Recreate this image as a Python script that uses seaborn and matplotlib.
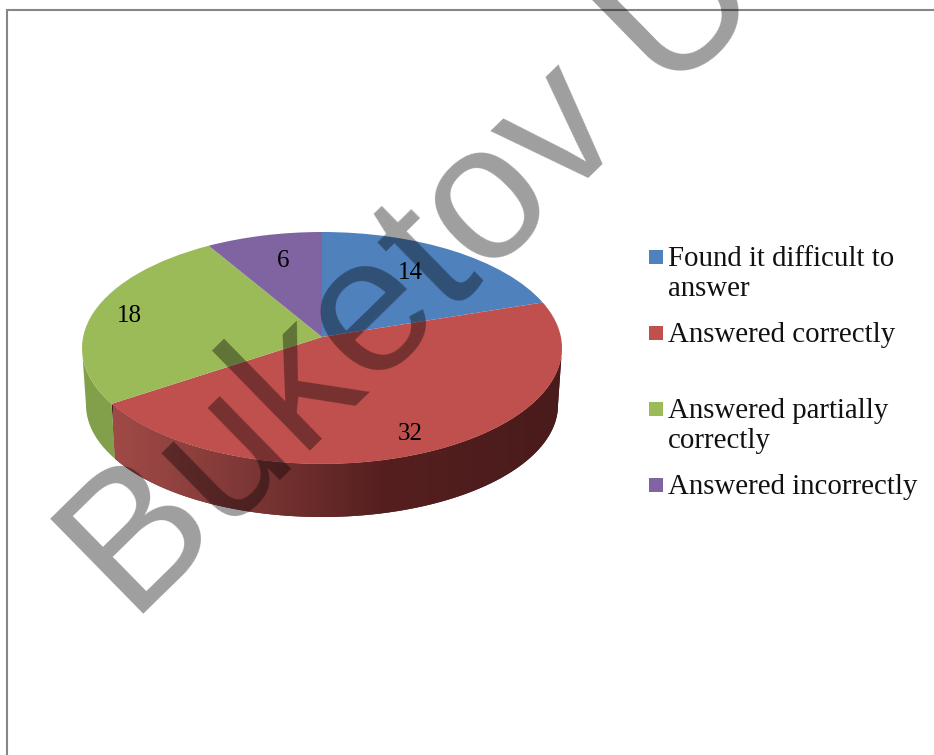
import matplotlib
matplotlib.use("Agg")
import matplotlib.pyplot as plt
import matplotlib.transforms as mtransforms
from matplotlib.lines import Line2D
from matplotlib.patches import Rectangle
import numpy as np
import seaborn as sns


CATEGORIES = [
    "Found it difficult to\nanswer",
    "Answered correctly",
    "Answered partially\ncorrectly",
    "Answered incorrectly",
]
VALUES = [14, 32, 18, 6]
COLORS = ["#4f81bd", "#c0504d", "#9bbb59", "#8064a2"]
RED_WALL = ["#a04a47", "#8a3e3c", "#6f2f2e", "#561f1f", "#4f1d1d", "#4a1b1b"]
GREEN_WALL = "#829f49"
WATERMARK = "Buketov U"

WIDTH, HEIGHT = 934, 755
CENTER_X, CENTER_Y = 322, 348
RX, RY = 240, 116
TILT = 0.095
LABEL_XY = [(410, 273), (410, 434), (129, 316), (283, 261)]
LEGEND_Y = [257, 333, 409, 485]


class TiltTransform(mtransforms.Transform):
    # moves the pie centre towards the back of the disc, rim stays in place
    input_dims = 2
    output_dims = 2

    def transform_non_affine(self, values):
        x, y = np.asarray(values).T
        scale = 1 + TILT * y
        return np.column_stack([x * np.sqrt(1 - TILT**2) / scale, (y + TILT) / scale])


def to_data(px, py):
    return (px - CENTER_X) / RX, (CENTER_Y - py) / RY


def rim(start, end):
    angles = np.radians(np.linspace(start, end, 120))
    points = np.column_stack([np.sin(angles), np.cos(angles)])
    return TiltTransform().transform_non_affine(points)


def wall_outline(start, end):
    top = rim(start, end)
    bottom = rim(end, start) * [236 / RX, 112 / RY] + [0, -57 / RY]
    return np.vstack([top, bottom])


sns.set_theme(style="white")
plt.rcParams["font.family"] = ["Liberation Serif", "DejaVu Serif"]

fig = plt.figure(figsize=(WIDTH / 100, HEIGHT / 100), dpi=100, facecolor="white")
ax = fig.add_axes([0, 0, 1, 1])

edges = np.cumsum([0] + VALUES) / sum(VALUES) * 360

# clock angle where the tilted rim reaches its widest point
side_angle = np.degrees(np.arccos(-TILT))

# side of the disc first, the top face goes over it
red_outline = wall_outline(side_angle, edges[2])
red_poly = ax.fill(red_outline[:, 0], red_outline[:, 1], color=RED_WALL[-1], lw=0, zorder=1)[0]
green_outline = wall_outline(edges[2], 360 - side_angle)
ax.fill(green_outline[:, 0], green_outline[:, 1], color=GREEN_WALL, lw=0, zorder=1)

ramp = ax.imshow(
    np.linspace(0, 1, 256)[None, :],
    cmap=sns.blend_palette(RED_WALL, as_cmap=True),
    extent=(-0.87, 1.0, -1.5, 0.6),
    aspect="auto",
    zorder=2,
)
ramp.set_clip_path(red_poly)

wedges, _ = ax.pie(
    VALUES,
    colors=sns.color_palette(COLORS),
    startangle=90,
    counterclock=False,
    radius=1,
    wedgeprops={"linewidth": 0},
)
for wedge in wedges:
    wedge.set_transform(TiltTransform() + ax.transData)
    wedge.set_zorder(3)
    wedge.set_clip_on(False)

ax.set_aspect("auto")
ax.set_xlim(to_data(0, 0)[0], to_data(WIDTH, 0)[0])
ax.set_ylim(to_data(0, HEIGHT)[1], to_data(0, 0)[1])
ax.axis("off")

for value, (px, py) in zip(VALUES, LABEL_XY):
    x, y = to_data(px, py)
    ax.text(x, y, str(value), ha="center", va="center", fontsize=18, color="black", zorder=5)

# legend rows are not evenly spaced in the original
for label, color, py in zip(CATEGORIES, COLORS, LEGEND_Y):
    fig.add_artist(
        Rectangle(
            (649 / WIDTH, 1 - (py + 7) / HEIGHT),
            14 / WIDTH,
            14 / HEIGHT,
            transform=fig.transFigure,
            facecolor=color,
            linewidth=0,
        )
    )
    for i, line in enumerate(label.split("\n")):
        fig.text(
            668 / WIDTH,
            1 - (py + 9 + 30 * i) / HEIGHT,
            line,
            ha="left",
            va="baseline",
            fontsize=20.8,
            color="#111111",
        )

# frame of the embedded picture, only top and left show
for xs, ys in [((7, 7), (10, HEIGHT)), ((7, WIDTH), (10, 10))]:
    fig.add_artist(
        Line2D(
            [x / WIDTH for x in xs],
            [1 - y / HEIGHT for y in ys],
            transform=fig.transFigure,
            color="#868686",
            linewidth=1.5,
        )
    )

fig.text(
    133 / WIDTH,
    1 - 625 / HEIGHT,
    WATERMARK,
    rotation=44.4,
    rotation_mode="anchor",
    ha="left",
    va="baseline",
    fontsize=139,
    family="Liberation Sans",
    color="black",
    alpha=0.38,
    zorder=10,
)

fig.savefig("out.png", dpi=100, facecolor="white")
plt.close(fig)
